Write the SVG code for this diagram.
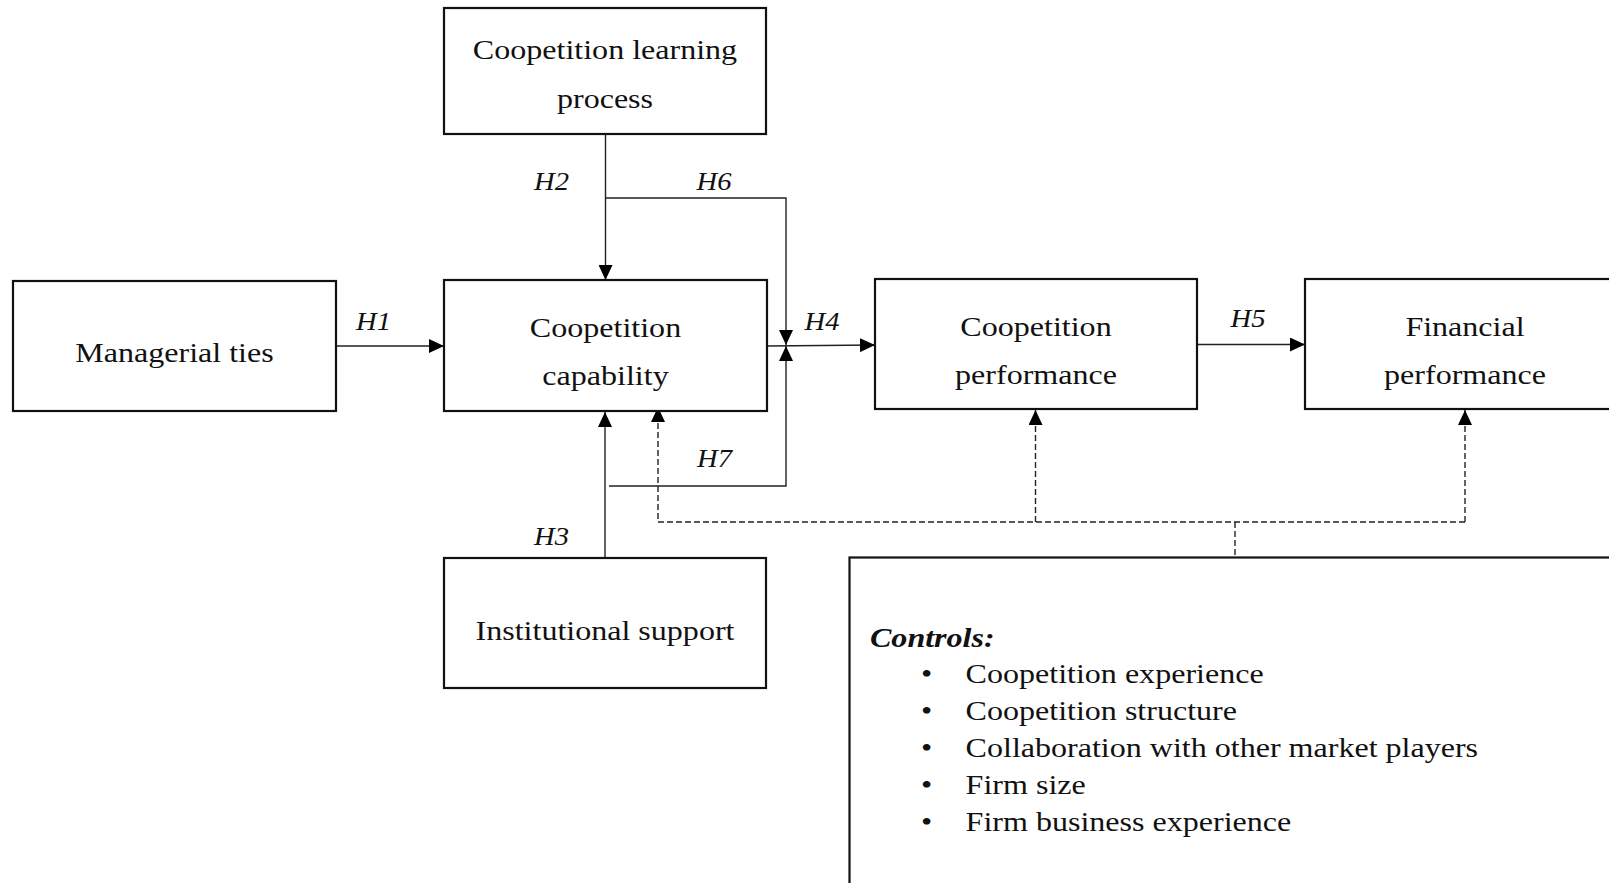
<svg xmlns="http://www.w3.org/2000/svg" width="1609" height="883" viewBox="0 0 1609 883">
<style>
.box{fill:#fff;stroke:#111;stroke-width:2.2}
.t{font-family:"Liberation Serif","Times New Roman",serif;font-size:28px;fill:#111;text-anchor:middle}
.h{font-family:"Liberation Serif","Times New Roman",serif;font-size:25px;font-style:italic;fill:#111;text-anchor:middle}
.c{font-family:"Liberation Serif","Times New Roman",serif;font-size:28px;fill:#111}
.cb{font-family:"Liberation Serif","Times New Roman",serif;font-size:28px;font-weight:bold;font-style:italic;fill:#111}
.ln{fill:none;stroke:#222;stroke-width:1.4}
.ds{fill:none;stroke:#222;stroke-width:1.4;stroke-dasharray:6,3}
</style>
<defs>
<marker id="ah" markerUnits="userSpaceOnUse" markerWidth="16" markerHeight="14" refX="15" refY="7" orient="auto">
<path d="M0,0 L15,7 L0,14 z" fill="#000"/>
</marker>
</defs>
<rect width="1609" height="883" fill="#fff"/>
<g id="connectors">
<line class="ln" x1="336" y1="346" x2="444" y2="346" marker-end="url(#ah)"/>
<line class="ln" x1="605.5" y1="134" x2="605.5" y2="280" marker-end="url(#ah)"/>
<polyline class="ln" points="605.5,198 786,198 786,345" marker-end="url(#ah)"/>
<line class="ln" x1="767" y1="346" x2="875" y2="345" marker-end="url(#ah)"/>
<polyline class="ln" points="609,486 786,486 786,346" marker-end="url(#ah)"/>
<line class="ln" x1="605" y1="558" x2="605" y2="412" marker-end="url(#ah)"/>
<line class="ln" x1="1197" y1="344.5" x2="1305" y2="344.5" marker-end="url(#ah)"/>
<polyline class="ds" points="1465,522 658,522 658,407" marker-end="url(#ah)"/>
<line class="ds" x1="1465" y1="522" x2="1465" y2="410" marker-end="url(#ah)"/>
<line class="ds" x1="1035.5" y1="522" x2="1035.5" y2="410" marker-end="url(#ah)"/>
<line class="ds" x1="1235" y1="522" x2="1235" y2="558"/>
<text class="h" transform="translate(373.5,330) scale(1.145,1)">H1</text>
<text class="h" transform="translate(551.5,190) scale(1.145,1)">H2</text>
<text class="h" transform="translate(714,190) scale(1.145,1)">H6</text>
<text class="h" transform="translate(822,330) scale(1.145,1)">H4</text>
<text class="h" transform="translate(1248,327) scale(1.145,1)">H5</text>
<text class="h" transform="translate(714.5,467) scale(1.145,1)">H7</text>
<text class="h" transform="translate(551.5,545) scale(1.145,1)">H3</text>
</g>
<g id="learning">
<rect class="box" x="444" y="8" width="322" height="126"/>
<text class="t" transform="translate(605,59) scale(1.145,1)">Coopetition learning</text>
<text class="t" transform="translate(605,108) scale(1.145,1)">process</text>
</g>
<g id="managerial">
<rect class="box" x="13" y="281" width="323" height="130"/>
<text class="t" transform="translate(174.5,362) scale(1.145,1)">Managerial ties</text>
</g>
<g id="capability">
<rect class="box" x="444" y="280" width="323" height="131"/>
<text class="t" transform="translate(605.5,337) scale(1.145,1)">Coopetition</text>
<text class="t" transform="translate(605.5,385) scale(1.145,1)">capability</text>
</g>
<g id="coopperf">
<rect class="box" x="875" y="279" width="322" height="130"/>
<text class="t" transform="translate(1036,336) scale(1.145,1)">Coopetition</text>
<text class="t" transform="translate(1036,384) scale(1.145,1)">performance</text>
</g>
<g id="financial">
<rect class="box" x="1305" y="279" width="320" height="130"/>
<text class="t" transform="translate(1465,336) scale(1.145,1)">Financial</text>
<text class="t" transform="translate(1465,384) scale(1.145,1)">performance</text>
</g>
<g id="institutional">
<rect class="box" x="444" y="558" width="322" height="130"/>
<text class="t" transform="translate(605,640) scale(1.145,1)">Institutional support</text>
</g>
<g id="controls">
<rect class="box" x="849.5" y="557.5" width="800" height="360"/>
<text class="cb" transform="translate(870,647) scale(1.145,1)">Controls:</text>
<text class="c" transform="translate(921,683) scale(1.145,1)">•</text>
<text class="c" transform="translate(965.6,683) scale(1.145,1)">Coopetition experience</text>
<text class="c" transform="translate(921,720) scale(1.145,1)">•</text>
<text class="c" transform="translate(965.6,720) scale(1.145,1)">Coopetition structure</text>
<text class="c" transform="translate(921,757) scale(1.145,1)">•</text>
<text class="c" transform="translate(965.6,757) scale(1.145,1)">Collaboration with other market players</text>
<text class="c" transform="translate(921,794) scale(1.145,1)">•</text>
<text class="c" transform="translate(965.6,794) scale(1.145,1)">Firm size</text>
<text class="c" transform="translate(921,831) scale(1.145,1)">•</text>
<text class="c" transform="translate(965.6,831) scale(1.145,1)">Firm business experience</text>
</g>
</svg>
